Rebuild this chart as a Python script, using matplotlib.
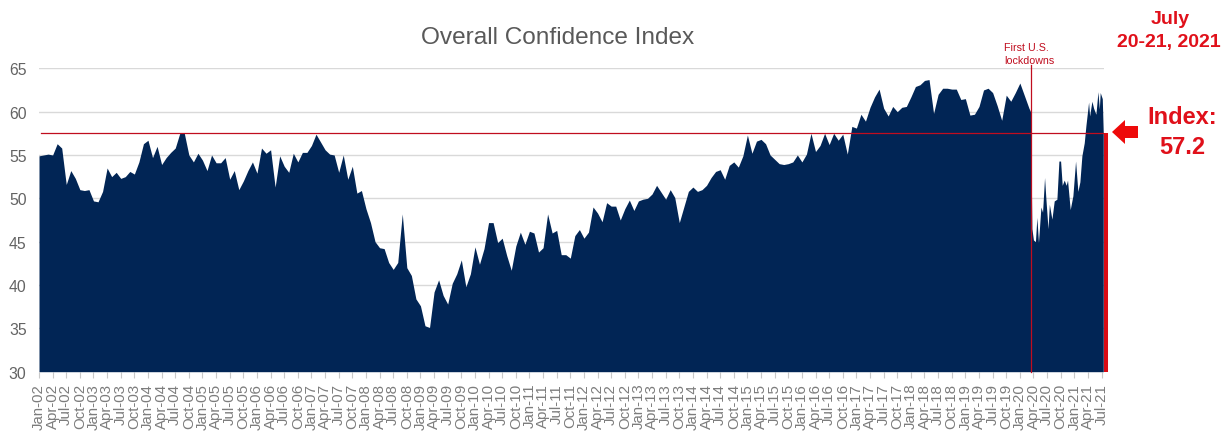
import matplotlib
matplotlib.use("Agg")
import matplotlib.pyplot as plt
from matplotlib.patches import Polygon
import pandas as pd

plt.rcParams['font.family'] = ['Liberation Sans', 'DejaVu Sans']

monthly_values = [
 54.9,55.0,55.1,55.0,56.3,55.8,51.6,53.2,52.3,51.0,50.9,51.0,49.7,49.6,50.8,53.5,52.5,53.0,52.3,52.5,
 53.1,52.8,54.2,56.3,56.7,54.7,56.0,53.9,54.7,55.3,55.8,57.5,57.5,55.0,54.2,55.2,54.4,53.2,55.0,54.1,
 54.1,54.7,52.2,53.2,51.0,52.0,53.2,54.2,52.9,55.8,55.2,55.6,51.3,54.9,53.7,53.0,55.2,54.2,55.3,55.3,
 56.1,57.4,56.5,55.6,55.1,55.0,53.0,55.0,52.2,53.7,50.6,50.9,48.8,47.2,45.0,44.3,44.2,42.6,41.8,42.6,
 48.2,42.0,41.1,38.4,37.6,35.3,35.1,39.2,40.6,38.8,37.8,40.2,41.3,42.9,39.8,41.3,44.4,42.4,44.2,47.2,
 47.2,44.9,45.4,43.4,41.7,44.5,46.1,44.7,46.2,46.0,43.8,44.3,48.2,46.0,46.3,43.5,43.5,43.1,45.7,46.4,
 45.4,46.1,49.0,48.3,47.3,49.5,49.1,49.1,47.5,48.8,49.8,48.6,49.7,49.9,50.0,50.5,51.5,50.7,49.9,51.0,
 50.1,47.2,49.0,50.8,51.3,50.8,51.0,51.5,52.4,53.1,53.3,52.2,53.8,54.2,53.6,54.9,57.3,55.2,56.6,56.8,
 56.3,55.0,54.5,54.0,53.9,54.0,54.2,55.0,54.2,55.1,57.5,55.4,56.1,57.5,56.2,57.5,56.7,57.4,55.1,58.3,
 58.1,59.7,58.9,60.5,61.7,62.6,60.4,59.5,60.6,60.0,60.5,60.6,61.7,62.9,63.1,63.6,63.7,59.8,62.0,62.7,
 62.7,62.6,62.6,61.4,61.5,59.6,59.7,60.6,62.5,62.7,62.2,60.7,59.0,61.9,61.2,62.2,63.3,62.8,
]
# Weekly-style readings after the first lockdowns, in months since Jan-02
recent_months = [218.0,218.35,218.65,218.99,219.43,219.75,220.1,220.64,221.0,221.44,221.74,222.2,222.5,
 223.06,223.57,224.16,224.6,224.97,225.33,225.77,226.2,226.5,227.09,227.68,228.27,228.78,229.22,229.66,
 230.18,230.55,231.14,231.36,231.87,232.24,232.75,233.2,233.5,233.7,234.15,234.37]
recent_values = [60.4,60.0,46.5,45.2,45.0,47.8,44.9,49.0,48.4,52.4,49.9,46.5,49.3,47.6,49.7,49.9,54.3,54.3,
 51.5,52.1,51.5,52.1,48.7,50.3,54.3,50.8,51.9,54.9,56.4,58.4,61.1,59.5,61.2,60.4,59.7,62.3,60.3,62.2,61.5,57.5]

months = list(range(len(monthly_values) - 1)) + recent_months
values = monthly_values[:-1] + recent_values

tick_dates = pd.date_range('2002-01-01', '2021-07-01', freq='3MS')
tick_labels = [d.strftime('%b-%y') for d in tick_dates]
tick_months = [(d.year - 2002) * 12 + d.month - 1 for d in tick_dates]
y_ticks = [30, 35, 40, 45, 50, 55, 60, 65]
index_level = 57.5
lockdown_month = 218.35
last_month = 234.9
title = 'Overall Confidence Index'

W, H = 1225, 435
fig = plt.figure(figsize=(W / 100, H / 100), dpi=100, facecolor='white')
ax = fig.add_axes([39 / W, 1 - 372.7 / H, 1065 / W, (372.7 - 69.3) / H])
ax.set_xlim(0, 1065 / 4.541)
ax.set_ylim(30, 65)

ax.set_axisbelow(True)
ax.grid(axis='y', color='#d9d9d9', lw=1.0)
for s in ax.spines.values():
    s.set_visible(False)

navy = '#012555'
ax.fill_between(months, values, 30, color=navy, lw=0, zorder=2)

red = '#c00d1e'
ax.axhline(index_level, xmin=2 / 1065, color=red, lw=0.9, zorder=3)
ax.plot([lockdown_month, lockdown_month], [30, 65.4], color=red, lw=0.9, zorder=3, clip_on=False)
ax.plot([last_month, last_month], [30, index_level], color='#d90b14', lw=2.9, zorder=3,
        clip_on=False, solid_capstyle='butt')

ax.set_yticks(y_ticks)
ax.set_xticks(tick_months)
ax.set_xticklabels(tick_labels, rotation=90, ha='center', va='top')
ax.tick_params(axis='y', length=0, pad=9, labelsize=11.3, labelcolor='#636363')
ax.tick_params(axis='x', length=4, width=0.8, color='#c8c8c8', pad=4, labelsize=10.8, labelcolor='#7c7c7c')

def px(x, y, s, **kw):
    fig.text(x / W, 1 - y / H, s, ha=kw.pop('ha', 'center'), va='center', **kw)

px(558, 38, title, fontsize=17.6, color='#595959')
px(1004.5, 48, 'First U.S.', ha='left', fontsize=7.7, color=red)
px(1004.5, 61, 'lockdowns', ha='left', fontsize=7.7, color=red)
bright = '#e0101a'
px(1170, 20, 'July', fontsize=14, fontweight='bold', color=bright)
px(1169, 43, '20-21, 2021', fontsize=14, fontweight='bold', color=bright)
px(1182, 118, 'Index:', fontsize=17, fontweight='bold', color=bright)
px(1182, 147, '57.2', fontsize=17, fontweight='bold', color=bright)

arrow_px = [(1112, 133), (1125, 121), (1125, 127), (1138, 127), (1138, 139), (1125, 139), (1125, 145)]
fig.add_artist(Polygon([(x / W, 1 - y / H) for x, y in arrow_px], closed=True, transform=fig.transFigure,
                       facecolor='#ee0a0a', edgecolor='none'))

fig.savefig('out.png', dpi=100)
